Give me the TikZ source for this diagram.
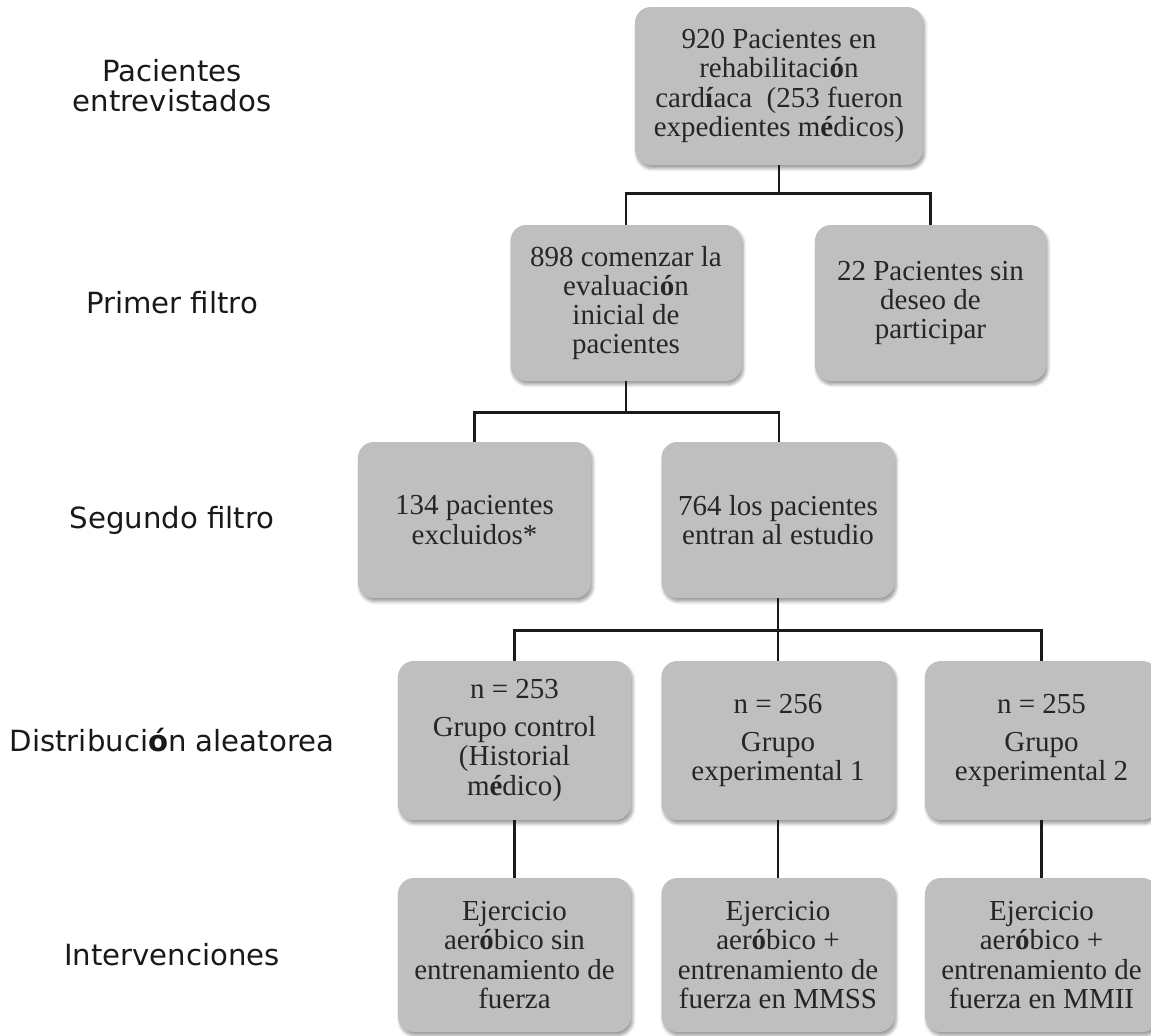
\documentclass[tikz,border=0pt]{standalone}
\usepackage{fontspec}
\setmainfont{Liberation Serif}
\newfontfamily\labelfont{DejaVu Sans}
\usepackage{tikz}
\usetikzlibrary{positioning,calc,shadows.blur}
\definecolor{boxgray}{HTML}{BFBFBF}
\definecolor{inkline}{HTML}{1A1A1A}
\tikzset{stage/.style={fill=boxgray,rounded corners=9pt,align=center,font=\fontsize{16.5}{16.6}\selectfont,minimum width=4.62cm,minimum height=3.12cm,inner sep=3pt,text=black!85,blur shadow={shadow xshift=1pt,shadow yshift=-2pt,shadow blur steps=6,shadow opacity=40}}, link/.style={line width=1.4pt,draw=inkline}, side/.style={font=\labelfont\fontsize{16.6}{17.2}\selectfont,align=center,text=black!90}}

\begin{document}
\begin{tikzpicture}
\useasboundingbox (0,0) rectangle (23.02,-20.72);
% etapas del estudio
\node[side] (lab1) at (3.44,-1.72) {Pacientes\\entrevistados};
\node[side] (lab2) at (3.44,-6.06) {Primer filtro};
\node[side] (lab3) at (3.44,-10.40) {Segundo filtro};
\node[side] (lab4) at (3.44,-14.81) {Distribuci\textbf{ó}n aleatorea};
\node[side] (lab5) at (3.44,-19.10) {Intervenciones};
% cajas
\node[stage,minimum width=5.76cm,minimum height=3.16cm] (top) at (15.58,-1.72) {920 Pacientes en\\rehabilitaci\textbf{ó}n\\card\textbf{í}aca\ \ (253 fueron\\expedientes m\textbf{é}dicos)};
\node[stage] (start) at (12.52,-6.06) {898 comenzar la\\evaluaci\textbf{ó}n\\inicial de\\pacientes};
\node[stage] (refuse) at (18.61,-6.06) {22 Pacientes sin\\deseo de\\participar};
\node[stage,minimum width=4.66cm] (excl) at (9.49,-10.40) {134 pacientes\\excluidos*};
\node[stage,minimum width=4.66cm] (enter) at (15.56,-10.40) {764 los pacientes\\entran al estudio};
\node[stage,minimum width=4.66cm,minimum height=3.18cm] (ctrl) at (10.29,-14.81) {n = 253\\[5pt]Grupo control\\(Historial\\m\textbf{é}dico)};
\node[stage,minimum width=4.66cm,minimum height=3.18cm] (exp1) at (15.56,-14.81) {n = 256\\[5pt]Grupo\\experimental 1};
\node[stage,minimum width=4.66cm,minimum height=3.18cm] (exp2) at (20.83,-14.81) {n = 255\\[5pt]Grupo\\experimental 2};
\node[stage,minimum width=4.66cm,minimum height=3.08cm] (int1) at (10.29,-19.10) {Ejercicio\\aer\textbf{ó}bico sin\\entrenamiento de\\fuerza};
\node[stage,minimum width=4.66cm,minimum height=3.08cm] (int2) at (15.56,-19.10) {Ejercicio\\aer\textbf{ó}bico +\\entrenamiento de\\fuerza en MMSS};
\node[stage,minimum width=4.66cm,minimum height=3.08cm] (int3) at (20.83,-19.10) {Ejercicio\\aer\textbf{ó}bico +\\entrenamiento de\\fuerza en MMII};
% conectores
\draw[link] (top.south) -- ++(0,-0.56) coordinate (j1);
\draw[link] (start.north) |- (j1) -| (refuse.north);
\draw[link] (start.south) -- ++(0,-0.62) coordinate (j2);
\draw[link] (excl.north) |- (j2) -| ($(enter.north)+(0.02,0)$);
\draw[link] (enter.south) -- ++(0,-0.64) coordinate (j3);
\draw[link] (ctrl.north) |- (j3) -| (exp2.north);
\draw[link] (j3) -- (exp1.north);
\draw[link] (ctrl) -- (int1);
\draw[link] (exp1) -- (int2);
\draw[link] (exp2) -- (int3);
\end{tikzpicture}
\end{document}
